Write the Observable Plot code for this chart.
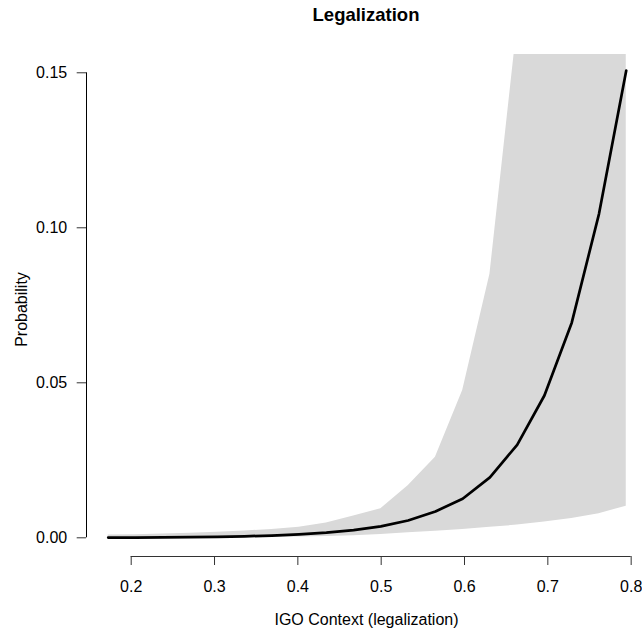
<!DOCTYPE html>
<html>
<head>
<meta charset="utf-8">
<script src="https://cdn.jsdelivr.net/npm/d3@7"></script>
<script src="https://cdn.jsdelivr.net/npm/@observablehq/plot@0.6"></script>
<style>
  html, body { margin: 0; padding: 0; background: #fff; }
  body { width: 642px; height: 637px; overflow: hidden; font-family: "Liberation Sans", Arial, sans-serif; }
  #title { height: 29px; line-height: 29px; margin-left: 86px; width: 560px; text-align: center;
           font-weight: bold; font-size: 18.5px; color: #000; }
  svg { display: block; }
</style>
</head>
<body>
<div id="title">Legalization</div>
<div id="chart"></div>
<script>
// Predicted probability across IGO legalization context
const legalization = [0.1724, 0.2051, 0.2378, 0.2706, 0.3033, 0.3360, 0.3687, 0.4014, 0.4342, 0.4669,
                      0.4996, 0.5323, 0.5651, 0.5978, 0.6305, 0.6632, 0.6959, 0.7287, 0.7614, 0.7941];
const probability = [0.00006, 0.00009, 0.00014, 0.00021, 0.00032, 0.00049, 0.00073, 0.0011, 0.00165, 0.0025,
                     0.0037, 0.0056, 0.0085, 0.0126, 0.0195, 0.0300, 0.0459, 0.0694, 0.1045, 0.1507];
const upperCI = [0.0009, 0.0010, 0.0012, 0.0015, 0.0018, 0.0022, 0.0027, 0.0034, 0.0048, 0.0070,
                 0.0094, 0.0168, 0.0260, 0.0475, 0.0850, 0.1650, 0.30, 0.50, 0.75, 1.0];
const lowerCI = [0.00002, 0.00003, 0.00004, 0.00006, 0.00009, 0.00013, 0.0002, 0.0003, 0.00045, 0.0007,
                 0.0011, 0.0016, 0.0021, 0.0027, 0.0034, 0.0041, 0.0051, 0.0062, 0.0078, 0.0102];
const xTicks = [0.2, 0.3, 0.4, 0.5, 0.6, 0.7, 0.8];
const yTicks = [0, 0.05, 0.10, 0.15];
const xLabel = "IGO Context (legalization)";
const yLabel = "Probability";

const data = legalization.map((x, i) => ({x, p: probability[i], lo: lowerCI[i], hi: upperCI[i]}));

const xMin = 0.14636, xMax = 0.8136;
const yMin = -0.00603, yMax = 0.1559;

const chart = Plot.plot({
  width: 642,
  height: 608,
  marginLeft: 86,
  marginRight: 0,
  marginTop: 25,
  marginBottom: 81,
  style: {fontFamily: "'Liberation Sans', Arial, sans-serif", fontSize: "16px", color: "#000", background: "#fff"},
  x: {domain: [xMin, xMax], axis: null},
  y: {domain: [yMin, yMax], axis: null},
  marks: [
    Plot.areaY(data, {x: "x", y1: "lo", y2: "hi", fill: "#d9d9d9", clip: true}),
    Plot.line(data, {x: "x", y: "p", stroke: "#000", strokeWidth: 2.7, clip: true}),
    Plot.axisX({ticks: xTicks, tickFormat: d3.format(".1f"), tickSize: 9, tickPadding: 15, fontSize: 16, label: null, anchor: "bottom", stroke: "#333"}),
    Plot.axisY({ticks: yTicks, tickFormat: d3.format(".2f"), tickSize: 9.3, tickPadding: 10, fontSize: 16, label: null, anchor: "left", stroke: "#333"}),
    Plot.ruleY([yMin], {x1: xTicks[0], x2: xTicks[xTicks.length - 1], stroke: "#333", strokeWidth: 1}),
    Plot.ruleX([xMin], {y1: yTicks[0], y2: yTicks[yTicks.length - 1], stroke: "#000", strokeWidth: 1}),
    Plot.text([xLabel], {frameAnchor: "bottom", dx: 2, dy: 68, fontSize: 16, fill: "#000"}),
    Plot.text([yLabel], {frameAnchor: "left", textAnchor: "middle", dx: -65, dy: 4, rotate: -90, fontSize: 16, fill: "#000"})
  ]
});
document.getElementById("chart").appendChild(chart);
</script>
</body>
</html>
